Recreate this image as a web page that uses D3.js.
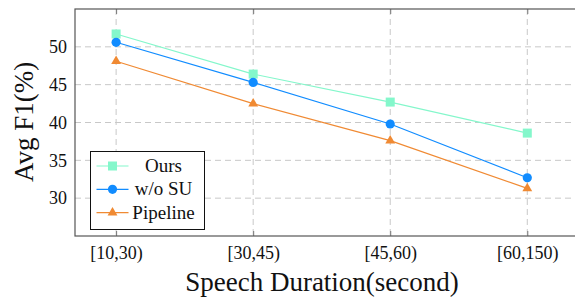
<!DOCTYPE html>
<html>
<head>
<meta charset="utf-8">
<script src="https://cdn.jsdelivr.net/npm/d3@7"></script>
<style>
  body { margin: 0; background: #fff; }
</style>
</head>
<body>
<div id="chart"></div>
<script>
// data
const categories = ['[10,30)', '[30,45)', '[45,60)', '[60,150)']
const ours = [51.7, 46.4, 42.7, 38.6]
const woSU = [50.6, 45.3, 39.8, 32.7]
const pipeline = [48.1, 42.5, 37.6, 31.3]
const yTicks = [30, 35, 40, 45, 50]

const series = [
    { name: 'Ours', values: ours, color: '#84f7cb', marker: 'square' },
    { name: 'w/o SU', values: woSU, color: '#118cff', marker: 'circle' },
    { name: 'Pipeline', values: pipeline, color: '#f08a33', marker: 'triangle' }
]

const serif = '"Liberation Serif", "Times New Roman", Times, serif'

const svgWidth = 575
const svgHeight = 297
const margin = { top: 9, left: 75, right: -3, bottom: 61 }
const width = svgWidth - margin.left - margin.right
const height = svgHeight - margin.top - margin.bottom

const svg = d3.select('#chart')
    .append('svg')
    .attr('width', svgWidth)
    .attr('height', svgHeight)

const chartGroup = svg.append('g')
    .attr('transform', `translate(${margin.left}, ${margin.top})`)

const idx = categories.map((c, i) => i)
const xScale = d3.scaleLinear().domain([-0.3, 3.37]).range([0, width])
const yScale = d3.scaleLinear().domain([25, 55]).range([height, 0])

// grid
chartGroup.append('g')
    .selectAll('line')
    .data(yTicks)
    .enter()
    .append('line')
    .attr('x1', 0).attr('x2', width)
    .attr('y1', d => yScale(d)).attr('y2', d => yScale(d))
    .attr('stroke', '#c8c8c8').attr('stroke-dasharray', '6,4')

chartGroup.append('g')
    .selectAll('line')
    .data(idx)
    .enter()
    .append('line')
    .attr('x1', d => xScale(d)).attr('x2', d => xScale(d))
    .attr('y1', 0).attr('y2', height)
    .attr('stroke', '#c8c8c8').attr('stroke-dasharray', '6,4')

// axes
const xAxis = d3.axisBottom(xScale).tickValues(idx).tickFormat(i => categories[i])
    .tickSizeInner(-5).tickSizeOuter(0).tickPadding(10)
const xAxisTop = d3.axisTop(xScale).tickValues(idx).tickFormat('')
    .tickSizeInner(-5).tickSizeOuter(0)
const yAxis = d3.axisLeft(yScale).tickValues(yTicks).tickSize(0).tickPadding(8)

const gx = chartGroup.append('g')
    .attr('transform', `translate(0, ${height})`)
    .call(xAxis)
const gxt = chartGroup.append('g').call(xAxisTop)
const gy = chartGroup.append('g').call(yAxis)

;[gx, gxt, gy].forEach(g => {
    g.attr('font-family', null)
    g.select('.domain').remove()
    g.selectAll('line').attr('stroke', '#777')
    g.selectAll('text')
        .style('font-family', serif)
        .style('font-size', '18px')
        .attr('fill', '#111')
})

// frame
chartGroup.append('rect')
    .attr('x', 0).attr('y', 0)
    .attr('width', width).attr('height', height)
    .attr('fill', 'none').attr('stroke', '#555').attr('stroke-width', 1.2)

// lines and markers
const line = d3.line()
    .x((d, i) => xScale(i))
    .y(d => yScale(d))

function drawMarker(g, type, color) {
    if (type === 'square') {
        g.append('rect').attr('x', -4.5).attr('y', -4.5).attr('width', 9).attr('height', 9).attr('fill', color)
    } else if (type === 'circle') {
        g.append('circle').attr('r', 4.6).attr('fill', color)
    } else {
        g.append('path').attr('d', d3.symbol(d3.symbolTriangle, 42)()).attr('fill', color)
    }
}

series.forEach(s => {
    chartGroup.append('path')
        .datum(s.values)
        .attr('d', line)
        .attr('fill', 'none')
        .attr('stroke', s.color)
        .attr('stroke-width', 1.2)

    chartGroup.selectAll(null)
        .data(s.values)
        .enter()
        .append('g')
        .attr('transform', (d, i) => `translate(${xScale(i)}, ${yScale(d)})`)
        .each(function() { drawMarker(d3.select(this), s.marker, s.color) })
})

// legend
const legend = svg.append('g').attr('transform', 'translate(90.5, 151.5)')
legend.append('rect')
    .attr('width', 114).attr('height', 78)
    .attr('fill', '#fff').attr('stroke', '#111').attr('stroke-width', 1)

series.forEach((s, i) => {
    const y = 14.5 + i * 23.3
    legend.append('line')
        .attr('x1', 6).attr('x2', 38).attr('y1', y).attr('y2', y)
        .attr('stroke', s.color).attr('stroke-width', 1.2)
    const m = legend.append('g').attr('transform', `translate(22, ${y})`)
    drawMarker(m, s.marker, s.color)
    legend.append('text')
        .attr('x', 73).attr('y', y + 6)
        .attr('text-anchor', 'middle')
        .style('font-family', serif)
        .style('font-size', '19px')
        .attr('fill', '#111')
        .text(s.name)
})

// axis titles
svg.append('text')
    .attr('x', 322).attr('y', 291)
    .attr('text-anchor', 'middle')
    .style('font-family', serif)
    .style('font-size', '27px')
    .attr('fill', '#111')
    .text('Speech Duration(second)')

svg.append('text')
    .attr('transform', 'translate(33, 122) rotate(-90)')
    .attr('text-anchor', 'middle')
    .style('font-family', serif)
    .style('font-size', '27px')
    .attr('fill', '#111')
    .text('Avg F1(%)')
</script>
</body>
</html>
